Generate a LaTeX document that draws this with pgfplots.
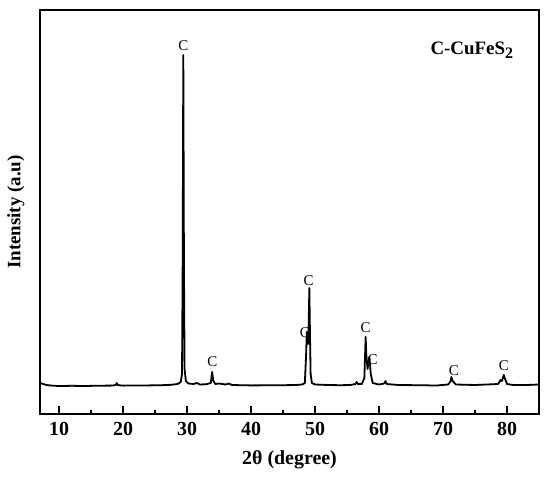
\documentclass[border=0pt]{standalone}
\usepackage{pgfplots}
\pgfplotsset{compat=1.18}
\usepackage{fontspec}
\setmainfont{Liberation Serif}

\begin{document}
\begin{tikzpicture}
\begin{axis}[
    scale only axis,
    width=499bp, height=404bp,
    xmin=7, xmax=85,
    ymin=0, ymax=404,
    xtick={10,20,...,80},
    minor x tick num=1,
    xtick pos=bottom,
    ytick=\empty,
    tick align=inside,
    major tick length=8bp,
    minor tick length=4bp,
    every tick/.style={line width=1.5bp, black},
    axis line style={line width=1.8bp},
    /pgf/number format/assume math mode=true,
    xticklabel style={font=\bfseries\fontsize{20}{20}\selectfont, yshift=-5bp},
    xlabel={\bfseries\fontsize{20}{20}\selectfont 2θ (degree)},
    ylabel={\bfseries\fontsize{19}{19}\selectfont Intensity (a.u)},
    xlabel style={yshift=-8bp},
    ylabel style={yshift=12bp},
    clip=false,
]
\addplot[black, line width=1.8bp, line join=round] coordinates {
    (7,31) (7.5,30) (8,29) (9,28.3) (10,28) (12,28.2) (14,28) (16,28.3)
    (18,28.4) (18.8,28.8) (19,31) (19.2,28.8) (20,28.4) (22,28.5) (24,28.6)
    (26,28.8) (27.5,29.2) (28.5,30) (29,32) (29.2,40) (29.3,150) (29.4,359)
    (29.5,150) (29.6,45) (29.8,33) (30.2,30.5) (31,30) (31.5,31) (32,29.5)
    (33,29.8) (33.7,31) (33.9,42) (34.1,33) (34.4,30) (35,30.5) (36,29.5)
    (36.5,30.5) (37,29) (40,28.6) (45,28.8) (47,29) (48,29.5) (48.4,31)
    (48.6,60) (48.7,82) (48.8,78) (48.9,70) (49.0,90) (49.1,126) (49.2,80)
    (49.3,40) (49.5,31) (50,29.5) (52,29) (54,28.8) (55.5,29) (56.3,30)
    (56.5,32) (56.7,30) (57.3,30) (57.7,36) (57.9,77) (58.0,60) (58.2,45)
    (58.5,57) (58.7,40) (59,31) (60,29.5) (60.8,30.5) (61,33) (61.2,30)
    (63,29) (66,28.8) (69,28.5) (70.8,29.5) (71.2,33) (71.3,37) (71.5,33)
    (72,29.5) (75,29) (78.6,30) (79,34) (79.2,33) (79.5,39) (79.7,35)
    (80,30) (81,29) (83,29) (85,29.5)
};
\begin{scope}[every node/.style={font=\fontsize{15}{15}\selectfont, inner sep=0pt}]
\node at (axis cs:29.4,368) {C};
\node at (axis cs:33.95,52) {C};
\node at (axis cs:48.4,81) {C};
\node at (axis cs:49.0,133) {C};
\node at (axis cs:57.9,86) {C};
\node at (axis cs:59.0,54) {C};
\node at (axis cs:71.7,43) {C};
\node at (axis cs:79.5,48) {C};
\end{scope}
\node[font=\bfseries\fontsize{19}{19}\selectfont] at (axis cs:74.5,364)
    {C-CuFeS\raisebox{-0.45ex}{\fontsize{16}{16}\selectfont 2}};
\end{axis}
\path ([shift={(-40bp,-65bp)}]current axis.south west) rectangle ([shift={(11bp,10bp)}]current axis.north east);
\end{tikzpicture}
\end{document}
